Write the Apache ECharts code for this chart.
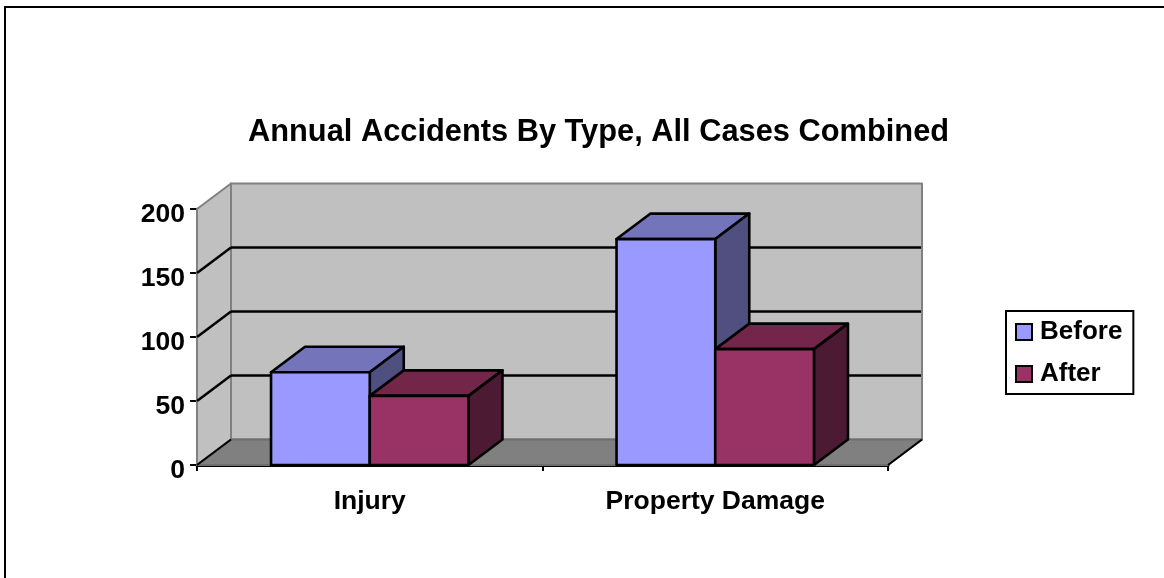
<!DOCTYPE html>
<html>
<head>
<meta charset="utf-8">
<style>html,body{margin:0;padding:0;background:#fff}#c{width:1164px;height:578px}</style>
<script src="https://cdn.jsdelivr.net/npm/echarts@6/dist/echarts.min.js"></script>
</head>
<body>
<div id="c"></div>
<script>
var categories = ['Injury', 'Property Damage'];
var beforeValues = [72.5, 176.5];
var afterValues = [54, 90.5];
var yTicks = [0, 50, 100, 150, 200];
var titleText = 'Annual Accidents By Type, All Cases Combined';

var DX = 34, DY = -25.5;
var FONT = '"Liberation Sans", Arial, sans-serif';
var BAR_SHARE = 1 / 3.5;

function poly(points, fill, stroke, width) {
  return { type: 'polygon', shape: { points: points },
    style: { fill: fill, stroke: stroke, lineWidth: width, lineJoin: 'round' } };
}
function seg(x1, y1, x2, y2, stroke, width) {
  return { type: 'line', shape: { x1: x1, y1: y1, x2: x2, y2: y2 },
    style: { stroke: stroke, lineWidth: width, fill: null } };
}

function renderWalls(params, api) {
  var c = params.coordSys;
  var l = c.x, r = c.x + c.width, t = c.y, b = c.y + c.height;
  var kids = [];
  if (params.dataIndex === 0) {
    kids.push(poly([[l, b], [l + DX, b + DY], [l + DX, t + DY], [l, t]], '#c0c0c0', '#808080', 2));
    kids.push(poly([[l + DX, t + DY], [r + DX, t + DY], [r + DX, b + DY], [l + DX, b + DY]], '#c0c0c0', '#808080', 2));
    kids.push(poly([[l, b], [r, b], [r + DX, b + DY], [l + DX, b + DY]], '#808080', '#6e6e6e', 2));
    kids.push(seg(r, b, r + DX, b + DY, '#000', 2));
    kids.push(seg(l, b, l + DX, b + DY, '#000', 2));
  }
  var v = api.value(0);
  if (v > 0 && v < yTicks[yTicks.length - 1]) {
    var y = api.coord([0, v])[1];
    kids.push(seg(l, y, l + DX, y + DY, '#000', 2.5));
    kids.push(seg(l + DX, y + DY, r + DX - 1, y + DY, '#000', 2.5));
  }
  return { type: 'group', children: kids };
}

function barRenderer(side, front, top, right) {
  return function (params, api) {
    var p = api.coord([api.value(0), api.value(1)]);
    var base = api.coord([api.value(0), 0])[1];
    var w = api.size([1, 0])[0] * BAR_SHARE;
    var x0 = side < 0 ? p[0] - w : p[0];
    var x1 = x0 + w, y = p[1];
    return { type: 'group', children: [
      poly([[x0, y], [x0 + DX, y + DY], [x1 + DX, y + DY], [x1, y]], top, '#000', 2.6),
      poly([[x1, y], [x1 + DX, y + DY], [x1 + DX, base + DY], [x1, base]], right, '#000', 2.6),
      poly([[x0, y], [x1, y], [x1, base], [x0, base]], front, '#000', 2.6)
    ] };
  };
}

var chart = echarts.init(document.getElementById('c'), null, { renderer: 'canvas' });
chart.setOption({
  animation: false,
  backgroundColor: '#fff',
  title: {
    text: titleText, left: 243, top: 112,
    textStyle: { fontFamily: FONT, fontWeight: 'bold', fontSize: 30.8, color: '#000' }
  },
  grid: { left: 197, top: 209, width: 691, height: 256, containLabel: false },
  xAxis: {
    type: 'category', data: categories,
    axisLine: { show: true, lineStyle: { color: '#000', width: 3 } },
    axisTick: { show: true, alignWithLabel: false, length: 6, lineStyle: { color: '#000', width: 2 } },
    axisLabel: { fontFamily: FONT, fontWeight: 'bold', fontSize: 26.5, color: '#000', margin: 23 },
    splitLine: { show: false }
  },
  yAxis: {
    type: 'value', min: 0, max: 200, interval: 50,
    axisLine: { show: true, lineStyle: { color: '#000', width: 2.5 } },
    axisTick: { show: true, length: 7, lineStyle: { color: '#000', width: 2 } },
    axisLabel: { fontFamily: FONT, fontWeight: 'bold', fontSize: 26.5, color: '#000', margin: 12,
      verticalAlign: 'top', lineHeight: 11 },
    splitLine: { show: false }
  },
  legend: {
    orient: 'vertical', left: 1006, top: 311, padding: [8, 11, 7, 9],
    data: ['Before', 'After'], icon: 'rect', itemWidth: 16, itemHeight: 16, itemGap: 16,
    borderColor: '#000', borderWidth: 2, backgroundColor: '#fff',
    textStyle: { fontFamily: FONT, fontWeight: 'bold', fontSize: 26, color: '#000', padding: [0, 0, 0, 3] },
    itemStyle: { borderColor: '#000', borderWidth: 2 }
  },
  graphic: [{
    type: 'polyline', silent: true, z: 100,
    shape: { points: [[5, 578], [5, 7], [1164, 7]] },
    style: { fill: null, stroke: '#000', lineWidth: 2 }
  }],
  series: [
    { type: 'custom', name: 'walls', z: 1, silent: true, renderItem: renderWalls,
      data: yTicks.map(function (t) { return [t]; }), encode: { y: 0 } },
    { type: 'custom', name: 'Before', z: 3, itemStyle: { color: '#9999ff' },
      renderItem: barRenderer(-1, '#9999ff', '#7474bb', '#4f4f80'),
      data: beforeValues.map(function (v, i) { return [i, v]; }), encode: { x: 0, y: 1 } },
    { type: 'custom', name: 'After', z: 4, itemStyle: { color: '#993366' },
      renderItem: barRenderer(1, '#993366', '#732649', '#4d1a33'),
      data: afterValues.map(function (v, i) { return [i, v]; }), encode: { x: 0, y: 1 } }
  ]
});
</script>
</body>
</html>
